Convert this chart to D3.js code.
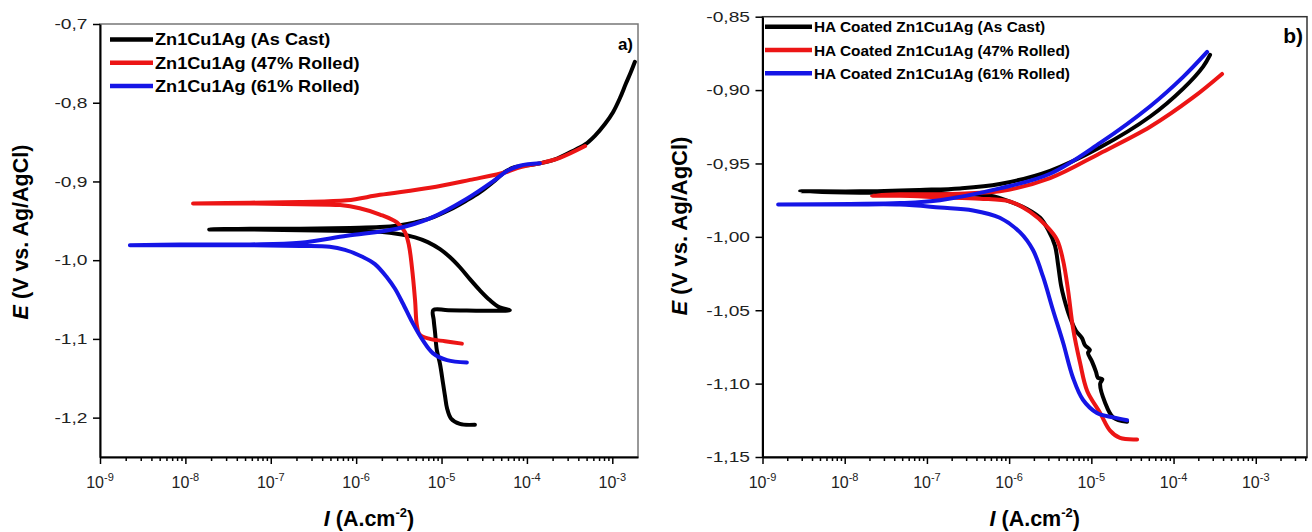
<!DOCTYPE html>
<html>
<head>
<meta charset="utf-8">
<script src="https://cdn.jsdelivr.net/npm/d3@7"></script>
<style>
  body { margin: 0; background: #fff; }
  svg { display: block; }
</style>
</head>
<body>
<div class="canvas"></div>
<script>
// ---- data: [current density I (A/cm2), potential E (V vs Ag/AgCl)] ----
const asCastA = [
  [2.46e-5, -1.209], [1.64e-5, -1.208], [1.29e-5, -1.201], [1.16e-5, -1.188], [1.10e-5, -1.173],
  [1.04e-5, -1.156], [9.6e-6, -1.132], [8.8e-6, -1.114], [8.4e-6, -1.092], [8.1e-6, -1.076],
  [8.0e-6, -1.0635], [1.2e-5, -1.0635], [6.3e-5, -1.0635], [4.8e-5, -1.060], [3.7e-5, -1.051],
  [2.8e-5, -1.038], [2.15e-5, -1.024],
  [1.64e-5, -1.009], [1.25e-5, -0.996], [9.6e-6, -0.986], [6.9e-6, -0.977], [4.9e-6, -0.971],
  [3.26e-6, -0.967], [1.9e-6, -0.964], [8.5e-7, -0.963], [2.2e-7, -0.962], [5.7e-8, -0.961],
  [1.9e-8, -0.961], [5.7e-8, -0.960], [2.2e-7, -0.960], [8.5e-7, -0.959], [1.9e-6, -0.958],
  [3.26e-6, -0.9555], [4.9e-6, -0.952], [7.3e-6, -0.947], [1.25e-5, -0.936], [1.98e-5, -0.924],
  [2.8e-5, -0.914], [4.0e-5, -0.901], [5.5e-5, -0.888], [7.2e-5, -0.882], [1.08e-4, -0.879],
  [1.42e-4, -0.877], [2.13e-4, -0.872], [3.2e-4, -0.863], [4.8e-4, -0.853], [6.25e-4, -0.842],
  [8.2e-4, -0.827], [1.02e-3, -0.812], [1.23e-3, -0.794], [1.44e-3, -0.776], [1.65e-3, -0.761],
  [1.84e-3, -0.748]
];
const rolled47A = [
  [1.73e-5, -1.106], [1.10e-5, -1.103], [7.3e-6, -1.100], [5.6e-6, -1.095], [5.15e-6, -1.083],
  [4.9e-6, -1.051], [4.5e-6, -1.009], [4.15e-6, -0.981], [3.72e-6, -0.964], [3.0e-6, -0.952],
  [1.9e-6, -0.942], [1.1e-6, -0.934], [6.5e-7, -0.930], [2.2e-7, -0.929], [5.7e-8, -0.928],
  [1.23e-8, -0.928], [5.7e-8, -0.927], [2.2e-7, -0.926], [7.8e-7, -0.924], [1.9e-6, -0.917],
  [7.3e-6, -0.908], [2.15e-5, -0.898], [5.8e-5, -0.888], [8.3e-5, -0.882], [1.42e-4, -0.877],
  [2.43e-4, -0.870], [4.8e-4, -0.855]
];
const rolled61A = [
  [1.98e-5, -1.130], [1.16e-5, -1.127], [7.9e-6, -1.118], [6.05e-6, -1.102], [4.6e-6, -1.080],
  [3.53e-6, -1.055], [2.84e-6, -1.036], [2.3e-6, -1.022], [1.66e-6, -1.005], [1.2e-6, -0.996],
  [7.4e-7, -0.987], [4.9e-7, -0.983], [2.2e-7, -0.982], [5.7e-8, -0.981], [8.65e-9, -0.981],
  [2.24e-9, -0.981], [8.65e-9, -0.980], [5.7e-8, -0.980], [2.2e-7, -0.978], [7.8e-7, -0.969],
  [3.0e-6, -0.960], [7.3e-6, -0.947], [1.98e-5, -0.922], [4.0e-5, -0.900], [5.8e-5, -0.887],
  [8.3e-5, -0.880], [1.42e-4, -0.877]
];
const asCastB = [
  [2.72e-5, -1.126], [1.84e-5, -1.123], [1.47e-5, -1.113], [1.28e-5, -1.100], [1.36e-5, -1.097],
  [1.2e-5, -1.096], [1.14e-5, -1.092], [1.02e-5, -1.085], [9.1e-6, -1.079], [9.6e-6, -1.077],
  [8.4e-6, -1.074], [7.7e-6, -1.069], [6.5e-6, -1.064], [5.5e-6, -1.055], [4.66e-6, -1.042],
  [4.28e-6, -1.033], [3.94e-6, -1.019], [3.61e-6, -1.006], [2.97e-6, -0.995], [2.38e-6, -0.987],
  [1.65e-6, -0.981], [1.03e-6, -0.976], [5.9e-7, -0.972], [2.53e-7, -0.971], [8.2e-8, -0.970],
  [1.53e-8, -0.970], [2.86e-9, -0.969], [1.53e-8, -0.969], [8.2e-8, -0.968], [2.53e-7, -0.967],
  [7.7e-7, -0.964], [3.15e-6, -0.955], [1.28e-5, -0.939], [5.2e-5, -0.918], [1.31e-4, -0.899],
  [2.29e-4, -0.884], [2.78e-4, -0.876]
];
const rolled47B = [
  [3.6e-5, -1.138], [2.23e-5, -1.137], [1.69e-5, -1.132], [1.28e-5, -1.120], [8.9e-6, -1.105],
  [7.3e-6, -1.086], [5.98e-6, -1.062], [5.2e-6, -1.036], [4.53e-6, -1.016], [3.83e-6, -1.002],
  [2.89e-6, -0.993], [1.8e-6, -0.983], [1.03e-6, -0.976], [4.4e-7, -0.974], [1.44e-7, -0.973],
  [4.7e-8, -0.972], [2.15e-8, -0.972], [4.7e-8, -0.971], [1.44e-7, -0.971], [4.4e-7, -0.970],
  [7.7e-7, -0.969], [3.15e-6, -0.960], [1.28e-5, -0.943], [5.2e-5, -0.925], [1.73e-4, -0.905],
  [3.89e-4, -0.889]
];
const rolled61B = [
  [2.72e-5, -1.125], [1.84e-5, -1.123], [1.17e-5, -1.120], [7.9e-6, -1.111], [5.98e-6, -1.096],
  [4.53e-6, -1.072], [3.42e-6, -1.050], [2.58e-6, -1.027], [1.95e-6, -1.009], [1.36e-6, -0.997],
  [7.7e-7, -0.987], [3.64e-7, -0.982], [1.44e-7, -0.980], [4.7e-8, -0.978], [1.16e-8, -0.978],
  [1.55e-9, -0.978], [1.16e-8, -0.9776], [4.7e-8, -0.977], [1.44e-7, -0.975], [7.7e-7, -0.967],
  [3.15e-6, -0.957], [1.28e-5, -0.936], [5.2e-5, -0.911], [1.31e-4, -0.891], [2.56e-4, -0.874]
];

const namesA = ['Zn1Cu1Ag (As Cast)', 'Zn1Cu1Ag (47% Rolled)', 'Zn1Cu1Ag (61% Rolled)'];
const namesB = ['HA Coated Zn1Cu1Ag (As Cast)', 'HA Coated Zn1Cu1Ag (47% Rolled)', 'HA Coated Zn1Cu1Ag (61% Rolled)'];
const colors = ['#000000', '#ec1515', '#1515e6'];

const xExponents = [-9, -8, -7, -6, -5, -4, -3];
const yTicksA = [-1.2, -1.1, -1.0, -0.9, -0.8, -0.7];
const yTicksB = [-1.15, -1.10, -1.05, -1.00, -0.95, -0.90, -0.85];

const sans = "'Liberation Sans', Arial, sans-serif";

const svg = d3.select('.canvas')
    .append('svg')
    .attr('width', 1312)
    .attr('height', 532)

const panels = [
  { left: 100, right: 638, top: 24, bottom: 457,
    xDomain: [1e-9, 2e-3], yDomain: [-1.25, -0.7], yTicks: yTicksA, yDigits: 1,
    series: [asCastA, rolled47A, rolled61A], names: namesA, frame: '#777',
    legend: { x: 110, len: 43, y: 39.5, gap: 23.2, size: 16.5, stretch: 1.1 },
    label: { text: 'a)', x: 633, y: 50, size: 17 },
    yTitle: { x: 28, y: 232, size: 21.5 } },
  { left: 762.5, right: 1307, top: 16.7, bottom: 457,
    xDomain: [1e-9, 4.2e-3], yDomain: [-1.15, -0.85], yTicks: yTicksB, yDigits: 2,
    series: [asCastB, rolled47B, rolled61B], names: namesB, frame: '#333',
    legend: { x: 765, len: 47, y: 26.7, gap: 23.3, size: 15.4, stretch: 1 },
    label: { text: 'b)', x: 1303, y: 43, size: 21 },
    yTitle: { x: 687, y: 226, size: 22 } }
];

panels.forEach(p => {
  const x = d3.scaleLog().domain(p.xDomain).range([p.left, p.right]);
  const y = d3.scaleLinear().domain(p.yDomain).range([p.bottom, p.top]);
  const graph = svg.append('g');

  // box
  graph.append('rect')
    .attr('x', p.left).attr('y', p.top)
    .attr('width', p.right - p.left).attr('height', p.bottom - p.top)
    .attr('fill', 'none').attr('stroke', p.frame).attr('stroke-width', 1.5);

  // minor ticks on the log axis
  const minor = [];
  xExponents.concat([xExponents[xExponents.length - 1] + 1]).forEach(e => {
    for (let m = 2; m <= 9; m++) {
      const v = m * Math.pow(10, e);
      if (v < p.xDomain[1]) minor.push(v);
    }
  });
  const minorGroup = graph.append('g')
    .attr('transform', `translate(0, ${p.bottom})`)
    .call(d3.axisBottom(x).tickValues(minor).tickSize(4).tickSizeOuter(0).tickFormat(''));
  minorGroup.select('.domain').remove();
  minorGroup.selectAll('.tick line').attr('stroke-width', 1.5);

  const xAxisGroup = graph.append('g')
    .attr('transform', `translate(0, ${p.bottom})`)
    .call(d3.axisBottom(x).tickValues(xExponents.map(e => Math.pow(10, e)))
      .tickSize(7).tickSizeOuter(0).tickFormat(''));
  xAxisGroup.select('.domain').attr('stroke-width', 2);
  xAxisGroup.selectAll('.tick line').attr('stroke-width', 1.5);

  const xLabels = graph.selectAll('.xlab')
    .data(xExponents)
    .join('text')
    .attr('class', 'xlab')
    .attr('x', e => x(Math.pow(10, e)))
    .attr('y', p.bottom + 31)
    .attr('text-anchor', 'middle')
    .attr('font-family', sans)
    .attr('font-size', 16)
    .attr('fill', '#222');
  xLabels.append('tspan').text('10');
  xLabels.append('tspan').attr('dy', -7).attr('font-size', 11).text(e => String(e));

  const yAxisGroup = graph.append('g')
    .attr('transform', `translate(${p.left}, 0)`)
    .call(d3.axisLeft(y).tickValues(p.yTicks).tickSize(7).tickSizeOuter(0)
      .tickFormat(v => v.toFixed(p.yDigits).replace('.', ',')));
  yAxisGroup.select('.domain').attr('stroke-width', 2);
  yAxisGroup.selectAll('.tick line').attr('stroke-width', 1.5);
  yAxisGroup.selectAll('text')
    .attr('font-family', sans)
    .attr('font-size', 15)
    .attr('fill', '#222')
    .attr('transform', 'scale(1.28,1)')
    .attr('x', -12.5 / 1.28);

  // curves
  const line = d3.line()
    .x(d => x(d[0]))
    .y(d => y(d[1]))
    .curve(d3.curveCatmullRom.alpha(0.5));

  p.series.forEach((s, i) => {
    graph.append('path')
      .datum(s)
      .attr('d', line)
      .attr('fill', 'none')
      .attr('stroke', colors[i])
      .attr('stroke-width', 4)
      .attr('stroke-linejoin', 'round')
      .attr('stroke-linecap', 'round');
  });

  // legend
  p.names.forEach((name, i) => {
    const ly = p.legend.y + i * p.legend.gap;
    graph.append('line')
      .attr('x1', p.legend.x).attr('x2', p.legend.x + p.legend.len)
      .attr('y1', ly).attr('y2', ly)
      .attr('stroke', colors[i]).attr('stroke-width', 4.5);
    graph.append('text')
      .attr('transform', `translate(${p.legend.x + p.legend.len + 2}, ${ly}) scale(${p.legend.stretch},1)`)
      .attr('dy', '0.36em')
      .attr('font-family', sans)
      .attr('font-weight', 'bold')
      .attr('font-size', p.legend.size)
      .text(name);
  });

  graph.append('text')
    .attr('x', p.label.x).attr('y', p.label.y)
    .attr('text-anchor', 'end')
    .attr('font-family', sans)
    .attr('font-weight', 'bold')
    .attr('font-size', p.label.size)
    .text(p.label.text);

  // axis titles
  const xt = graph.append('text')
    .attr('x', (p.left + p.right) / 2)
    .attr('y', 526)
    .attr('text-anchor', 'middle')
    .attr('font-family', sans)
    .attr('font-weight', 'bold')
    .attr('font-size', 21.5);
  xt.append('tspan').attr('font-style', 'italic').text('I');
  xt.append('tspan').text(' (A.cm');
  xt.append('tspan').attr('dy', -9).attr('font-size', 13).text('-2');
  xt.append('tspan').attr('dy', 9).text(')');

  const yt = graph.append('text')
    .attr('transform', `translate(${p.yTitle.x}, ${p.yTitle.y}) rotate(-90)`)
    .attr('text-anchor', 'middle')
    .attr('font-family', sans)
    .attr('font-weight', 'bold')
    .attr('font-size', p.yTitle.size);
  yt.append('tspan').attr('font-style', 'italic').text('E');
  yt.append('tspan').text(' (V vs. Ag/AgCl)');
});
</script>
</body>
</html>
